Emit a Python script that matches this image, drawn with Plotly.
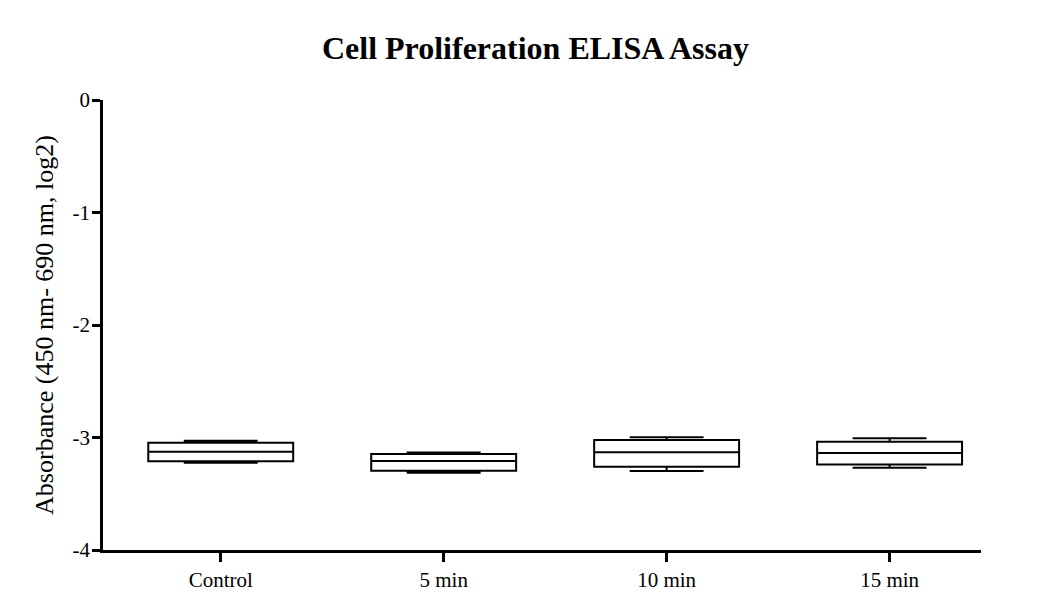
import plotly.graph_objects as go

categories = ["Control", "5 min", "10 min", "15 min"]
upper_whisker = [-3.029, -3.134, -2.998, -3.007]
q3_values = [-3.046, -3.147, -3.022, -3.037]
medians = [-3.126, -3.209, -3.132, -3.138]
q1_values = [-3.212, -3.295, -3.259, -3.241]
lower_whisker = [-3.224, -3.313, -3.298, -3.268]
y_ticks = [0, -1, -2, -3, -4]

FONT = "Liberation Serif, Times New Roman, serif"

fig = go.Figure()
for i, c in enumerate(categories):
    fig.add_trace(go.Box(
        x=[c],
        q1=[q1_values[i]], median=[medians[i]], q3=[q3_values[i]],
        lowerfence=[lower_whisker[i]], upperfence=[upper_whisker[i]],
        width=0.65, whiskerwidth=0.51,
        fillcolor="white",
        line=dict(color="black", width=2),
        boxpoints=False, showlegend=False, hoverinfo="skip",
    ))

fig.update_layout(
    width=1062, height=609,
    paper_bgcolor="white", plot_bgcolor="white",
    margin=dict(l=95, r=89, t=92, b=67),
    title=dict(text="<b>Cell Proliferation ELISA Assay</b>", x=0.4925, xanchor="center",
               xref="paper",
               y=0.935, yanchor="middle",
               font=dict(family=FONT, size=32, color="black")),
    font=dict(family=FONT, color="black"),
    xaxis=dict(type="category", categoryorder="array", categoryarray=categories,
               range=[-0.528, 3.41], showline=True, linecolor="black", linewidth=2.5,
               ticks="outside", ticklen=9, tickwidth=2.5, tickcolor="black",
               showgrid=False, zeroline=False,
               tickfont=dict(family=FONT, size=21, color="black")),
    yaxis=dict(range=[-4, 0], tickvals=y_ticks, ticktext=[str(v) for v in y_ticks],
               showline=True, linecolor="black", linewidth=2.5,
               ticks="outside", ticklen=8, tickwidth=2.5, tickcolor="black",
               showgrid=False, zeroline=False, ticklabelstandoff=-2,
               tickfont=dict(family=FONT, size=21, color="black"),
               title=dict(text="Absorbance (450 nm- 690 nm, log2)",
                          font=dict(family=FONT, size=26, color="black"), standoff=12)),
)

fig.write_html("out.html")
